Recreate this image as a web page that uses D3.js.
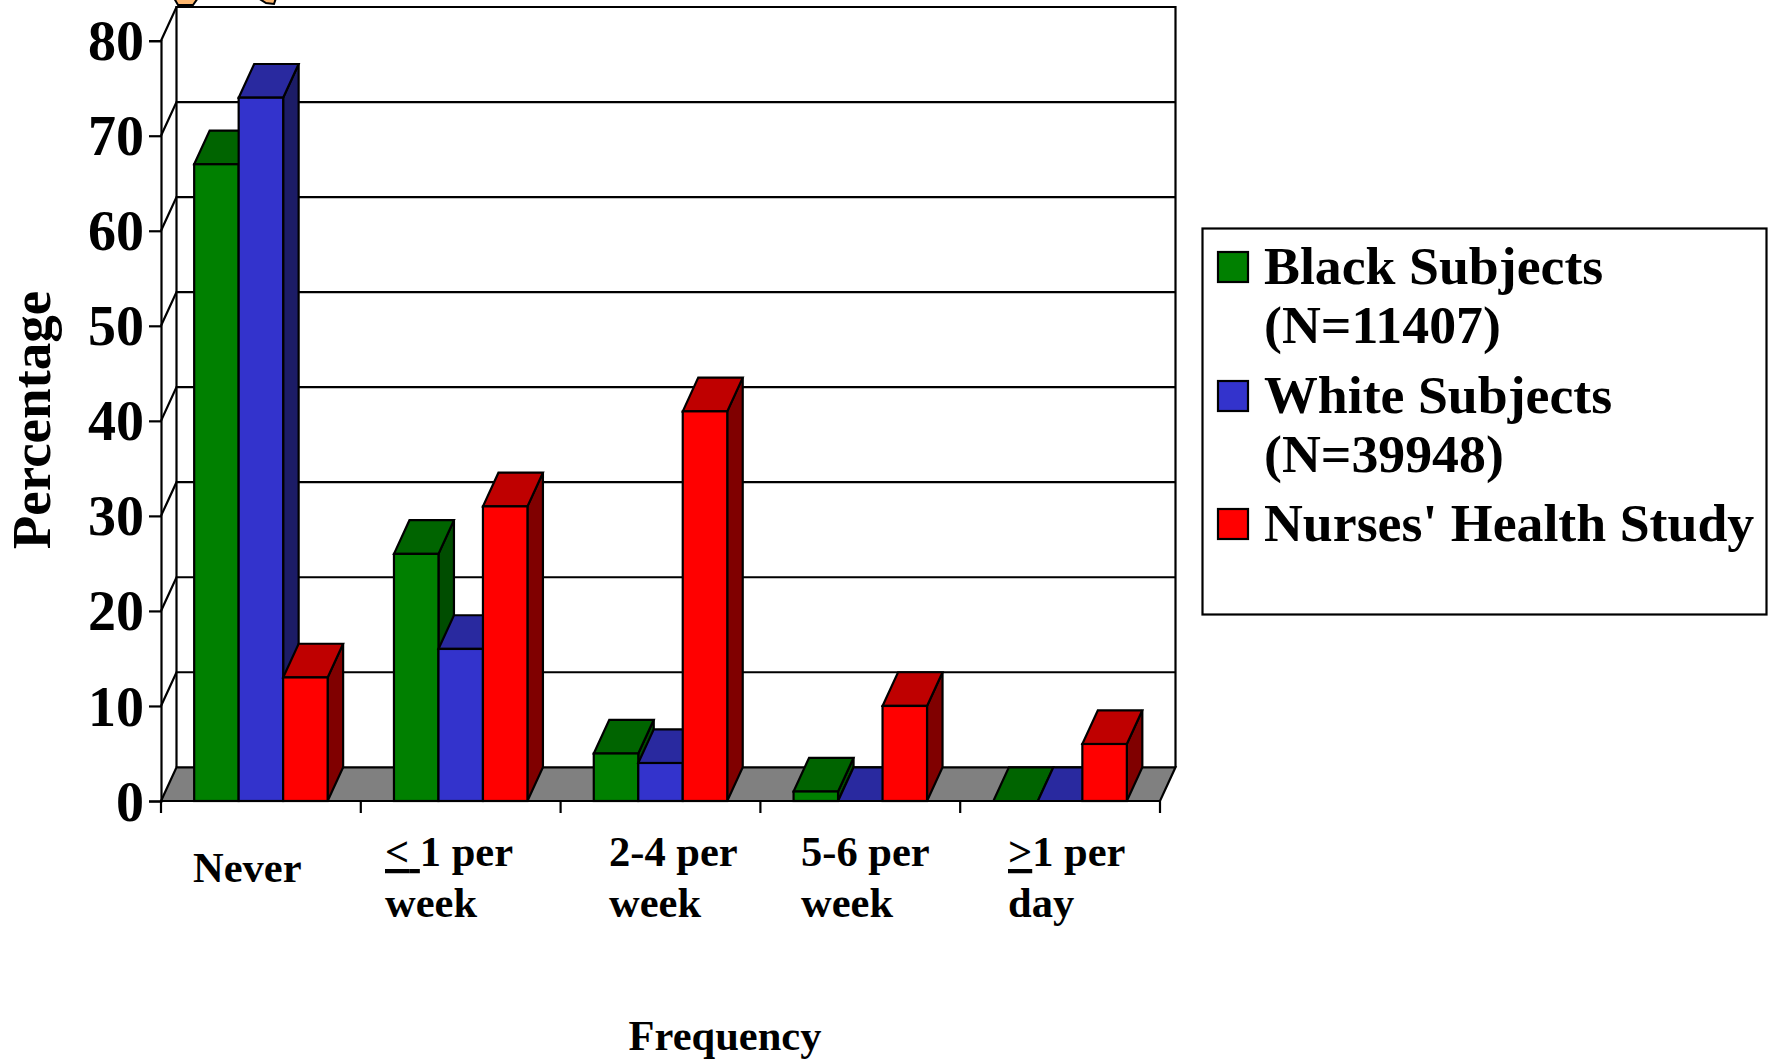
<!DOCTYPE html>
<html><head><meta charset="utf-8">
<script src="https://cdnjs.cloudflare.com/ajax/libs/d3/7.8.5/d3.min.js"></script>
<style>
html,body{margin:0;padding:0;background:#fff}
svg{display:block}
text{font-family:"Liberation Serif",serif;font-weight:bold;fill:#000}
</style></head><body>
<svg id="c" width="1771" height="1059"></svg>
<script>
const categories = ["Never","≤1 per week","2-4 per week","5-6 per week","≥1 per day"];
const categoryLines = [
  [[["Never",false]]],
  [[["<",true],[" ",true],["1 per",false]],[["week",false]]],
  [[["2-4 per",false]],[["week",false]]],
  [[["5-6 per",false]],[["week",false]]],
  [[[">",true],["1 per",false]],[["day",false]]]
];
const seriesNames = ["Black Subjects (N=11407)","White Subjects (N=39948)","Nurses' Health Study"];
const legendLines = [["Black Subjects","(N=11407)"],["White Subjects","(N=39948)"],["Nurses' Health Study"]];
const black = [67,26,5,1,0];
const white = [74,16,4,0,0];
const nurses = [13,31,41,10,6];
const yTicks = [0,10,20,30,40,50,60,70,80];
const frontColors = ["#008000","#3333cc","#ff0000"];
const topColors = ["#006400","#29299f","#bf0000"];
const sideColors = ["#004d00","#1c1c66","#800000"];

const svg = d3.select("#c");
const values = [black,white,nurses];
const x0 = d3.scaleBand().domain(d3.range(categories.length)).range([161,1160]).paddingInner(0.332).paddingOuter(0.166);
const x1 = d3.scaleBand().domain(d3.range(3)).range([0,x0.bandwidth()]);
const y = d3.scaleLinear().domain([0,80]).range([801,40.7]);
const dx = 15.5, dy = 33.7;
const line = d3.line();
const SW = 2.2;

// wall
const plot = svg.append("g").attr("fill","none").attr("stroke","#000").attr("stroke-width",SW);
plot.append("path").attr("d",line([[x0.range()[0]+dx,y(0)-dy],[x0.range()[0]+dx,y(80)-dy],[x0.range()[1]+dx,y(80)-dy],[x0.range()[1]+dx,y(0)-dy]]));
// floor
plot.append("path").attr("fill","#808080").attr("d",line([[161,y(0)],[161+dx,y(0)-dy],[1160+dx,y(0)-dy],[1160,y(0)]])+"Z");
yTicks.slice(1).forEach(v=>{
  plot.append("path").attr("d",line([[161,y(v)],[161+dx,y(v)-dy],[1160+dx,y(v)-dy]]));
});

// axes
const yAxis = d3.axisLeft(y).tickValues(yTicks).tickSize(12).tickPadding(5);
const gy = svg.append("g").attr("transform","translate(161,0)").call(yAxis);
gy.selectAll("path,line").attr("stroke","#000").attr("stroke-width",SW);
gy.selectAll("text").style("font-size","56px").attr("dy","0.34em");
gy.attr("font-family",null).attr("font-size",null);

// bars
categories.forEach((c,i)=>{
  const g = svg.append("g").attr("stroke","#000").attr("stroke-width",SW).attr("stroke-linejoin","miter");
  d3.range(3).forEach(s=>{
    const v = values[s][i];
    const l = x0(i)+x1(s), r = l+x1.bandwidth(), t = y(v), b = y(0);
    g.append("path").attr("fill",sideColors[s]).attr("d",line([[r,t],[r+dx,t-dy],[r+dx,b-dy],[r,b]])+"Z");
    g.append("path").attr("fill",topColors[s]).attr("d",line([[l,t],[l+dx,t-dy],[r+dx,t-dy],[r,t]])+"Z");
    if(v>0) g.append("rect").attr("x",l).attr("y",t).attr("width",r-l).attr("height",b-t).attr("fill",frontColors[s]);
  });
});

// x axis line & ticks
const xTickPos = d3.range(categories.length).map(i=>161+i*(999/categories.length)).concat([1160]);
const ax = svg.append("g").attr("stroke","#000").attr("stroke-width",SW);
ax.append("line").attr("x1",161).attr("x2",1160).attr("y1",y(0)).attr("y2",y(0));
ax.selectAll("line.t").data(xTickPos).join("line").attr("class","t").attr("x1",d=>d).attr("x2",d=>d).attr("y1",y(0)).attr("y2",y(0)+12);

// category labels
const catX = [193,385,609,801,1008];
const catY = [[882],[866,917],[866,917],[866,917],[866,917]];
categoryLines.forEach((lines,i)=>{
  lines.forEach((runs,j)=>{
    const t = svg.append("text").attr("x",catX[i]).attr("y",catY[i][j]).style("font-size","42.5px");
    runs.forEach(r=>{
      const ts = t.append("tspan").text(r[0]);
      if(r[1]) ts.style("text-decoration","underline");
    });
  });
});

// titles
svg.append("text").attr("transform","translate(50,420) rotate(-90)").attr("text-anchor","middle").style("font-size","55px").text("Percentage");
svg.append("text").attr("x",725).attr("y",1050).attr("text-anchor","middle").style("font-size","42.5px").text("Frequency");

// legend
svg.append("rect").attr("x",1202.5).attr("y",228.5).attr("width",564).attr("height",386).attr("fill","#fff").attr("stroke","#000").attr("stroke-width",SW);
const swY = [252,381,509];
legendLines.forEach((ls,s)=>{
  svg.append("rect").attr("x",1218).attr("y",swY[s]).attr("width",30).attr("height",30).attr("fill",frontColors[s]).attr("stroke","#000").attr("stroke-width",SW);
  ls.forEach((t,j)=>{
    svg.append("text").attr("x",1264).attr("y",swY[s]+32+j*59).style("font-size","53.8px").text(t);
  });
});

// clipped clip-art fragments at the top edge
const clip = svg.append("g").attr("fill","#ffb870").attr("stroke","#000").attr("stroke-width",2);
clip.append("path").attr("d","M174,-2 L178,5 L193,5 L198,-2Z");
clip.append("path").attr("d","M258,-2 L266,3 L274,4 L276,-2Z");
</script>
</body></html>
